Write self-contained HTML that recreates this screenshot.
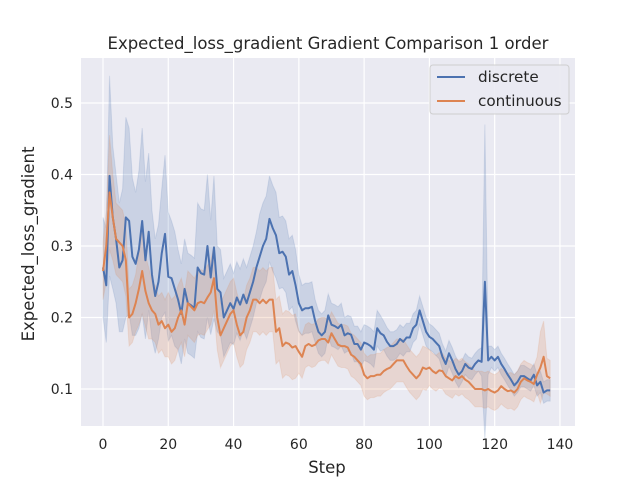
<!DOCTYPE html>
<html><head><meta charset="utf-8"><style>body{margin:0;background:#fff}svg{display:block;font-family:"DejaVu Sans","Liberation Sans",sans-serif}</style></head>
<body>
<svg id="chart" width="640" height="480">
<rect x="0" y="0" width="640" height="480" fill="#fff"/>
<rect x="81" y="58" width="494" height="368" fill="#eaeaf2"/>
<g id="grid"></g><g id="bands"></g><g id="lines"></g><g id="ticks"></g>
<text x="328" y="49" text-anchor="middle" font-size="16.5" fill="#262626">Expected_loss_gradient Gradient Comparison 1 order</text>
<text x="327" y="473" text-anchor="middle" font-size="16.5" fill="#262626">Step</text>
<text transform="translate(34,244) rotate(-90)" text-anchor="middle" font-size="16.5" fill="#262626">Expected_loss_gradient</text>
<g>
<rect x="430" y="65" width="139" height="49" rx="3" fill="#eaeaf2" stroke="#cccccc" opacity="0.9"/>
<g><line x1="437" y1="77" x2="465" y2="77" stroke="#4c72b0" stroke-width="2"/><text x="478" y="82" font-size="15.2" fill="#262626">discrete</text></g>
<g><line x1="437" y1="101" x2="465" y2="101" stroke="#dd8452" stroke-width="2"/><text x="478" y="106" font-size="15.2" fill="#262626">continuous</text></g>
</g>
</svg>
<script>
const xTicks=[0,20,40,60,80,100,120,140];
const yTicks=[0.1,0.2,0.3,0.4,0.5];
const discrete=[0.27,0.245,0.398,0.34,0.31,0.27,0.28,0.34,0.335,0.285,0.275,0.295,0.335,0.28,0.32,0.26,0.23,0.25,0.29,0.317,0.257,0.255,0.24,0.225,0.205,0.24,0.22,0.217,0.213,0.27,0.262,0.26,0.30,0.256,0.298,0.24,0.235,0.2,0.21,0.22,0.212,0.228,0.218,0.232,0.22,0.235,0.25,0.27,0.285,0.30,0.31,0.338,0.325,0.315,0.29,0.292,0.285,0.26,0.265,0.245,0.22,0.21,0.213,0.213,0.215,0.195,0.18,0.175,0.18,0.203,0.19,0.188,0.185,0.19,0.175,0.178,0.176,0.163,0.163,0.155,0.165,0.163,0.16,0.155,0.185,0.178,0.175,0.166,0.16,0.16,0.163,0.17,0.166,0.172,0.172,0.185,0.19,0.21,0.195,0.18,0.173,0.17,0.165,0.16,0.145,0.135,0.15,0.14,0.128,0.12,0.125,0.135,0.13,0.128,0.135,0.14,0.138,0.25,0.14,0.145,0.14,0.145,0.135,0.128,0.12,0.113,0.105,0.11,0.118,0.118,0.115,0.112,0.12,0.105,0.11,0.095,0.098,0.098];
const continuous=[0.265,0.30,0.375,0.34,0.31,0.305,0.3,0.28,0.20,0.205,0.22,0.24,0.265,0.237,0.22,0.21,0.205,0.19,0.195,0.185,0.19,0.18,0.185,0.2,0.21,0.19,0.22,0.215,0.21,0.22,0.222,0.22,0.228,0.235,0.255,0.2,0.175,0.185,0.195,0.205,0.21,0.19,0.175,0.18,0.2,0.21,0.225,0.225,0.22,0.225,0.22,0.225,0.225,0.18,0.185,0.16,0.165,0.163,0.158,0.16,0.152,0.145,0.16,0.163,0.16,0.162,0.168,0.17,0.17,0.165,0.178,0.17,0.162,0.16,0.16,0.158,0.148,0.145,0.14,0.135,0.12,0.115,0.118,0.118,0.12,0.12,0.125,0.128,0.13,0.135,0.14,0.14,0.14,0.132,0.125,0.12,0.115,0.12,0.13,0.128,0.13,0.125,0.122,0.126,0.125,0.118,0.115,0.112,0.118,0.115,0.118,0.113,0.11,0.105,0.1,0.1,0.1,0.098,0.1,0.097,0.095,0.098,0.104,0.1,0.097,0.098,0.095,0.1,0.11,0.115,0.112,0.11,0.107,0.12,0.13,0.145,0.118,0.115];
const discreteCI=[0.07,0.08,0.14,0.10,0.09,0.09,0.10,0.14,0.13,0.11,0.10,0.11,0.13,0.11,0.11,0.09,0.08,0.08,0.09,0.11,0.09,0.08,0.08,0.07,0.07,0.07,0.07,0.07,0.07,0.09,0.09,0.09,0.10,0.08,0.10,0.06,0.06,0.055,0.055,0.055,0.05,0.05,0.05,0.05,0.05,0.05,0.05,0.05,0.06,0.06,0.06,0.06,0.06,0.06,0.05,0.05,0.05,0.05,0.05,0.05,0.04,0.035,0.035,0.035,0.035,0.03,0.03,0.03,0.03,0.03,0.03,0.03,0.03,0.03,0.025,0.025,0.025,0.025,0.025,0.025,0.025,0.025,0.025,0.025,0.025,0.025,0.02,0.02,0.02,0.02,0.02,0.02,0.02,0.02,0.02,0.02,0.02,0.02,0.02,0.02,0.018,0.018,0.018,0.018,0.018,0.018,0.018,0.018,0.018,0.018,0.015,0.015,0.015,0.015,0.015,0.015,0.02,0.22,0.02,0.015,0.015,0.015,0.015,0.015,0.015,0.015,0.015,0.015,0.015,0.015,0.015,0.015,0.015,0.015,0.015,0.015,0.015,0.015];
const continuousCI=[0.04,0.05,0.08,0.06,0.05,0.05,0.05,0.05,0.04,0.04,0.04,0.05,0.06,0.05,0.05,0.04,0.04,0.04,0.04,0.04,0.045,0.045,0.045,0.045,0.045,0.045,0.045,0.045,0.045,0.045,0.045,0.045,0.045,0.045,0.045,0.045,0.045,0.045,0.045,0.045,0.045,0.045,0.045,0.045,0.045,0.045,0.045,0.045,0.045,0.045,0.045,0.045,0.045,0.045,0.045,0.045,0.045,0.045,0.045,0.045,0.03,0.03,0.03,0.03,0.03,0.03,0.03,0.03,0.03,0.03,0.03,0.03,0.03,0.03,0.03,0.03,0.03,0.03,0.03,0.03,0.03,0.03,0.03,0.03,0.03,0.03,0.03,0.03,0.03,0.03,0.03,0.03,0.03,0.03,0.03,0.03,0.03,0.03,0.03,0.03,0.025,0.025,0.025,0.025,0.025,0.025,0.025,0.025,0.025,0.025,0.025,0.025,0.025,0.025,0.025,0.025,0.025,0.025,0.025,0.025,0.025,0.025,0.025,0.025,0.025,0.025,0.025,0.025,0.025,0.025,0.025,0.025,0.025,0.025,0.05,0.05,0.025,0.025];
const NS='http://www.w3.org/2000/svg';
function X(v){return 103+v*3.264;}
function Y(v){return 389-(v-0.1)*715;}
function mk(t,a,p){const e=document.createElementNS(NS,t);for(const k in a)e.setAttribute(k,a[k]);p.appendChild(e);return e;}
const grid=document.getElementById('grid'),tk=document.getElementById('ticks');
xTicks.forEach(v=>{
 const l=mk('line',{x1:X(v),x2:X(v),y1:58,y2:426,stroke:'#fff','stroke-width':1.2},grid);
 
 
 const t=mk('text',{x:X(v),y:449,'text-anchor':'middle','font-size':14,fill:'#262626'},tk);t.textContent=v;
 
 
});
yTicks.forEach(v=>{
 const l=mk('line',{x1:81,x2:575,y1:Y(v),y2:Y(v),stroke:'#fff','stroke-width':1.2},grid);
 
 
 const t=mk('text',{x:73,y:Y(v)+5,'text-anchor':'end','font-size':14,fill:'#262626'},tk);t.textContent=v.toFixed(1);
 
 
});
function draw(vals,ci,col,name){
 let up=[],lo=[],ln=[];
 vals.forEach((v,i)=>{up.push(X(i)+','+Y(v+ci[i]));lo.unshift(X(i)+','+Y(Math.max(0,v-ci[i])));ln.push(X(i)+','+Y(v));});
 const b=mk('polygon',{points:up.concat(lo).join(' '),fill:col,'fill-opacity':0.2,stroke:col,'stroke-opacity':0.15},document.getElementById('bands'));
 
 
 const p=mk('polyline',{points:ln.join(' '),fill:'none',stroke:col,'stroke-width':2,'stroke-linejoin':'round'},document.getElementById('lines'));
 
 
}
draw(discrete,discreteCI,'#4c72b0','discrete');
draw(continuous,continuousCI,'#dd8452','continuous');
</script>
</body></html>
